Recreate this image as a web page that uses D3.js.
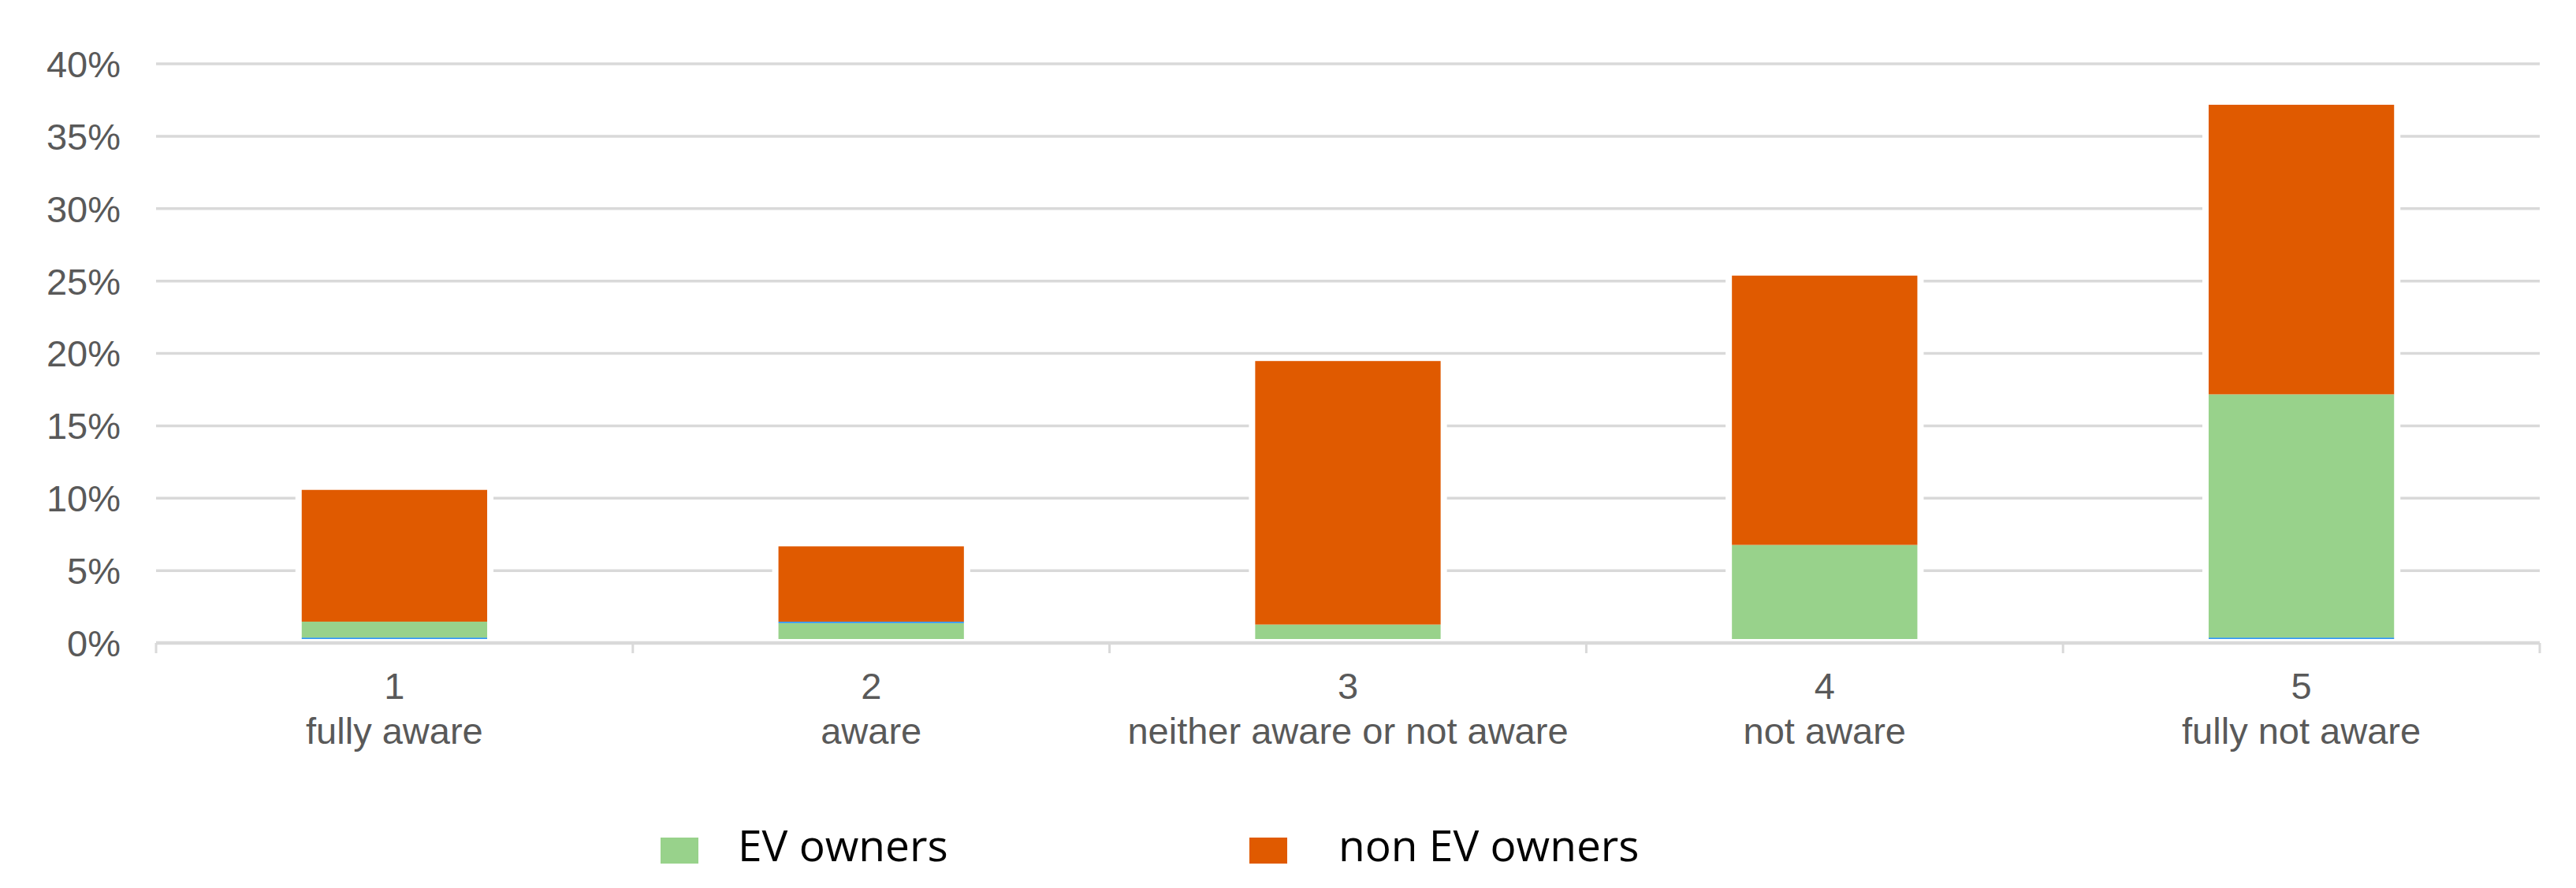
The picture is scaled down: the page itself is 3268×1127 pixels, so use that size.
<!DOCTYPE html>
<html>
<head>
<meta charset="utf-8">
<script src="https://cdn.jsdelivr.net/npm/d3@7"></script>
<style>
  html, body { margin: 0; padding: 0; background: #fff; }
  svg { display: block; }
</style>
</head>
<body>
<div id="chart"></div>
<script>
// ---- data ----
const categories = ["1", "2", "3", "4", "5"];
const categoryLabels = ["fully aware", "aware", "neither aware or not aware", "not aware", "fully not aware"];
const otherLow = [0.1, 0, 0, 0, 0.1];
const evOwners = [1.1, 1.1, 1.0, 6.5, 16.8];
const otherMid = [0, 0.1, 0, 0, 0];
const nonEvOwners = [9.1, 5.2, 18.2, 18.6, 20.0];
const yTicks = [0, 5, 10, 15, 20, 25, 30, 35, 40];
const yTickLabels = ["0%", "5%", "10%", "15%", "20%", "25%", "30%", "35%", "40%"];
const legendLabels = ["EV owners", "non EV owners"];

// ---- layout / style ----
const W = 3268, H = 1127;
const plotLeft = 198, plotRight = 3222, plotTop = 81, zeroY = 816;
const barLift = 5;
const colors = { otherLow: "#2f96f0", ev: "#98d28b", otherMid: "#2f96f0", nonEv: "#e05a00" };
const grid = "#d9d9d9", textCol = "#595959";

const rows = categories.map((c, i) => ({
  cat: c, otherLow: otherLow[i], ev: evOwners[i], otherMid: otherMid[i], nonEv: nonEvOwners[i]
}));
const keys = ["otherLow", "ev", "otherMid", "nonEv"];
const stacked = d3.stack().keys(keys)(rows);
const total = d => d.otherLow + d.ev + d.otherMid + d.nonEv;

const x = d3.scaleBand().domain(categories).range([plotLeft, plotRight]).paddingInner(0.611).paddingOuter(0.3055);
const y = d3.scaleLinear().domain([0, 40]).range([zeroY, plotTop]);

const svg = d3.select("#chart").append("svg").attr("width", W).attr("height", H);
svg.append("rect").attr("width", W).attr("height", H).attr("fill", "#fff");

// gridlines
svg.append("g").selectAll("line").data(yTicks.filter(t => t > 0)).join("line")
  .attr("x1", plotLeft).attr("x2", plotRight)
  .attr("y1", d => y(d)).attr("y2", d => y(d))
  .attr("stroke", grid).attr("stroke-width", 3.5);

// y labels
svg.append("g").selectAll("text").data(yTicks).join("text")
  .attr("x", 153).attr("y", d => y(d)).attr("dy", "0.36em")
  .attr("text-anchor", "end")
  .attr("font-family", "'Liberation Sans', Arial, sans-serif").attr("font-size", 47)
  .attr("fill", textCol)
  .text((d, i) => yTickLabels[i]);

// white halo behind bars (interrupts gridlines)
svg.append("g").selectAll("rect").data(rows).join("rect")
  .attr("x", d => x(d.cat) - 8).attr("width", x.bandwidth() + 16)
  .attr("y", d => y(total(d)) - barLift - 2)
  .attr("height", d => zeroY - y(total(d)) + 2)
  .attr("fill", "#fff");

// bars
svg.append("g").selectAll("g").data(stacked).join("g")
  .attr("fill", d => colors[d.key])
  .selectAll("rect").data(d => d).join("rect")
  .attr("x", d => x(d.data.cat))
  .attr("width", x.bandwidth())
  .attr("y", d => y(d[1]) - barLift)
  .attr("height", d => Math.max(0, y(d[0]) - y(d[1])));

// x axis line
svg.append("line").attr("x1", plotLeft).attr("x2", plotRight).attr("y1", zeroY).attr("y2", zeroY)
  .attr("stroke", grid).attr("stroke-width", 4.5);

// category boundary ticks
const step = x.step();
const tickXs = d3.range(categories.length + 1).map(i => plotLeft + i * step);
svg.append("g").selectAll("line").data(tickXs).join("line")
  .attr("x1", d => d).attr("x2", d => d)
  .attr("y1", zeroY).attr("y2", zeroY + 13)
  .attr("stroke", grid).attr("stroke-width", 3);

// x labels
const xl = svg.append("g").attr("font-family", "'Liberation Sans', Arial, sans-serif")
  .attr("font-size", 47).attr("fill", textCol).attr("text-anchor", "middle");
xl.selectAll("text.num").data(categories).join("text").attr("class", "num")
  .attr("x", d => x(d) + x.bandwidth() / 2).attr("y", 887).text(d => d);
xl.selectAll("text.desc").data(categories).join("text").attr("class", "desc")
  .attr("x", d => x(d) + x.bandwidth() / 2).attr("y", 944).text((d, i) => categoryLabels[i]);

// legend
const legendItems = [
  { label: legendLabels[0], color: colors.ev, sx: 838, tx: 936 },
  { label: legendLabels[1], color: colors.nonEv, sx: 1585, tx: 1698 }
];
const lg = svg.append("g");
lg.selectAll("rect").data(legendItems).join("rect")
  .attr("x", d => d.sx).attr("y", 1063).attr("width", 48).attr("height", 33)
  .attr("fill", d => d.color);
lg.selectAll("text").data(legendItems).join("text")
  .attr("x", d => d.tx).attr("y", 1093)
  .attr("font-family", "'Open Sans', 'Noto Sans', sans-serif").attr("font-size", 55)
  .attr("fill", "#000")
  .text(d => d.label);
</script>
</body>
</html>
